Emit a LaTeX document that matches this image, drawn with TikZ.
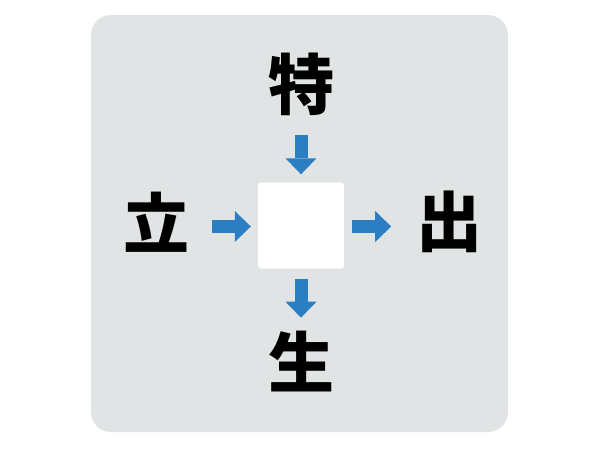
\documentclass[tikz,border=0pt]{standalone}
\usepackage{fontspec}
\newfontfamily\cjk{Noto Sans CJK JP}
\usepackage{tikz}
\usetikzlibrary{arrows.meta, positioning, calc}
\definecolor{boardgray}{HTML}{E1E4E5}
\definecolor{hintblue}{HTML}{2B7EC1}

\begin{document}
\begin{tikzpicture}[x=1pt, y=-1pt,
    kanji/.style = {inner sep=0pt, font=\cjk\bfseries\fontsize{66}{70}\selectfont},
    fat/.style = {hintblue, line width=13pt,
      -{Triangle[width=31pt, length=16pt, line width=0pt]}}]
    \useasboundingbox (0,0) rectangle (600,450);
    \fill[white] (0,0) rectangle (600,450);
    \fill[boardgray, rounded corners=20pt] (91,15) rectangle (508,432);

    \node[fill=white, rounded corners=3pt, minimum size=86pt, inner sep=0pt] (blank) at (301,225.5) {};

    \node[kanji] (top)   at (301,84)  {特};
    \node[kanji] (left)  at (156,222) {立};
    \node[kanji] (right) at (449,222) {出};
    \node[kanji] (down)  at (301,362) {生};

    \draw[fat] ([yshift=47pt]blank.north) -- ([yshift=8pt]blank.north);
    \draw[fat] ([xshift=-46pt,yshift=-1pt]blank.west) -- ([xshift=-7pt,yshift=-1pt]blank.west);
    \draw[fat] ([xshift=8pt,yshift=-1pt]blank.east) -- ([xshift=47pt,yshift=-1pt]blank.east);
    \draw[fat] ([yshift=-10pt]blank.south) -- ([yshift=-49pt]blank.south);
\end{tikzpicture}
\end{document}
